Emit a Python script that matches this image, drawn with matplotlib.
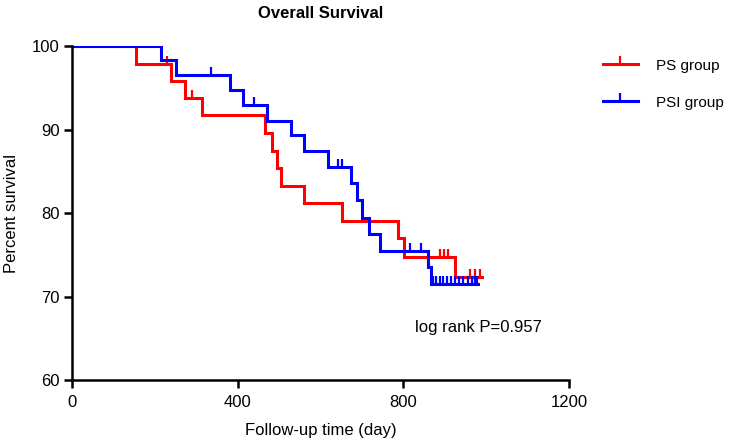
import numpy as np
import matplotlib
matplotlib.use("Agg")
import matplotlib.pyplot as plt

plt.rcParams['font.family'] = ['Liberation Sans', 'DejaVu Sans']

# PS group (red)
ps_times = [0, 154, 239, 273, 315, 466, 484, 496, 505, 559, 653, 787, 801, 925, 989]
ps_surv = [100, 97.9, 95.8, 93.8, 91.7, 89.6, 87.4, 85.4, 83.2, 81.2, 79.0, 77.0, 74.7, 72.3, 72.3]
ps_censor = [48, 94, 116, 229, 289, 888, 897, 909, 961, 973, 985]

# PSI group (blue)
psi_times = [0, 214, 251, 381, 414, 470, 529, 559, 619, 674, 688, 700, 717, 744, 860, 866, 980]
psi_surv = [100, 98.3, 96.5, 94.7, 92.9, 91.0, 89.3, 87.4, 85.5, 83.6, 81.5, 79.4, 77.5, 75.5, 73.5, 71.5, 71.5]
psi_censor = [94, 336, 440, 643, 653, 815, 842, 872, 880, 888, 895, 905, 915, 925,
              935, 945, 955, 965, 972, 978]

x_ticks = [0, 400, 800, 1200]
y_ticks = [60, 70, 80, 90, 100]

RED = '#FF0000'
BLUE = '#0000FF'

W, H = 735, 444
fig = plt.figure(figsize=(W / 100, H / 100), dpi=100)
ax = fig.add_axes([72 / W, 1 - 380 / H, (569 - 72) / W, (380 - 46) / H])


def censor_y(times, surv, ct):
    idx = np.searchsorted(np.asarray(times), np.asarray(ct), side='right') - 1
    return np.asarray(surv)[idx]


lw = 2.2
for times, surv, cens, col, lab in [
    (ps_times, ps_surv, ps_censor, RED, 'PS group'),
    (psi_times, psi_surv, psi_censor, BLUE, 'PSI group'),
]:
    ax.step(times, surv, where='post', color=col, lw=lw, solid_joinstyle='miter')
    ax.plot(cens, censor_y(times, surv, cens), linestyle='none', marker=2,
            markersize=6, markeredgewidth=1.6, color=col)
    ax.plot([], [], color=col, lw=lw, marker=2, markersize=6,
            markeredgewidth=1.6, label=lab)

ax.set_xlim(0, 1200)
ax.set_ylim(60, 100)
ax.set_xticks(x_ticks)
ax.set_yticks(y_ticks)
for s in ['top', 'right']:
    ax.spines[s].set_visible(False)
for s in ['left', 'bottom']:
    ax.spines[s].set_linewidth(1.8)
ax.tick_params(axis='both', width=1.8, length=6, labelsize=12, pad=3)
ax.tick_params(axis='x', pad=5)

ax.set_xlabel('Follow-up time (day)', fontsize=12, labelpad=9)
ax.set_ylabel('Percent survival', fontsize=12, labelpad=9)
ax.set_title('Overall Survival', fontsize=12, fontweight='bold', pad=20)

fig.text(415 / W, 1 - 327 / H, 'log rank P=0.957', fontsize=12, va='center', ha='left')

leg = fig.legend(loc='upper left', bbox_to_anchor=(595 / W, 1 - 51 / H),
                 frameon=False, fontsize=11, handlelength=2.3, handletextpad=1.2,
                 labelspacing=1.5, borderpad=0, numpoints=1)

fig.savefig('out.png', dpi=100)
